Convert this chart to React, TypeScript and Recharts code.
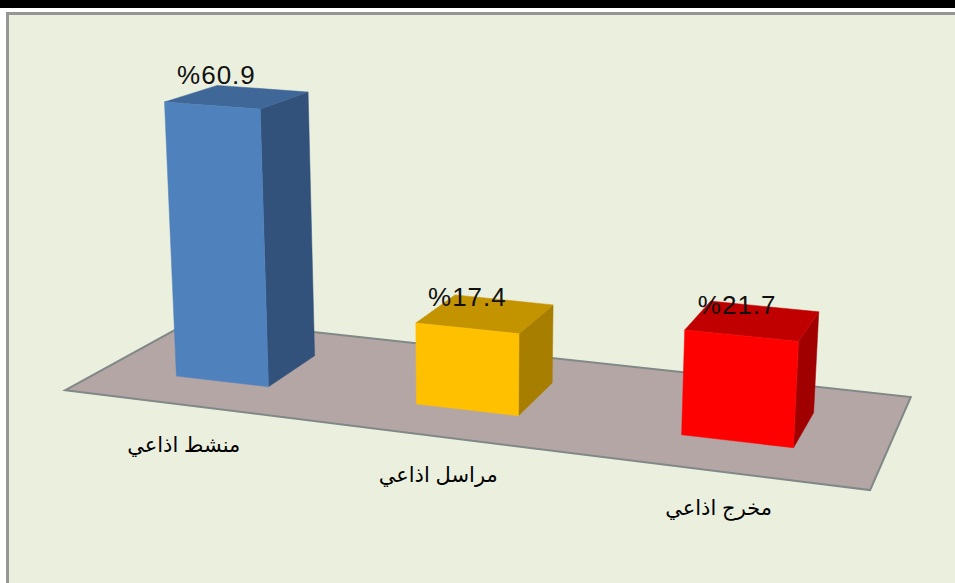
import React from "react";
import { BarChart, Bar, XAxis, YAxis, LabelList, ReferenceArea } from "recharts";

// Data
const categories = ["منشط اذاعي", "مراسل اذاعي", "مخرج اذاعي"];
const shares = [60.9, 17.4, 21.7];
const data = categories.map((name, i) => ({ name, share: shares[i] }));

// Style
const frontColors = ["#4F81BD", "#FFC000", "#FF0000"];
const topColors = ["#3F6797", "#C49300", "#C00000"];
const sideColors = ["#32527C", "#A87E00", "#A00000"];
const FONT = "'Liberation Sans', Arial, 'DejaVu Sans', sans-serif";

// Perspective camera: turns the flat band-scale rectangle into a box on a tilted floor
const toScreenX = (wx: number) => {
  const u = wx - 416;
  return 416 + u + 0.000185 * u * u - 0.0288 * u;
};
const depthX = (x: number) => 46 - 0.0495 * (x - 270);
const depthY = (x: number) => 31 + 0.0076 * (x - 270);
const groundY = (x: number) => 376 + 0.1163 * (x - 176);

const fromBase = (X: number, h: number, d: number) => {
  const bx = X + d * depthX(X);
  const by = groundY(X) - d * depthY(X);
  const hh = h * (1 + 0.000144 * (X - 176));
  return [bx + 0.000146 * (bx - 474) * hh, by - hh * (1 - 0.05 * d)];
};
const project = (wx: number, h: number, d: number) => fromBase(toScreenX(wx), h, d);
const pts = (list: number[][]) => list.map((p) => `${p[0].toFixed(1)},${p[1].toFixed(1)}`).join(" ");

const floorPlan = [
  [106, -0.75],
  [884, -0.89],
  [884, 1.72],
  [106, 1.64],
];

const Floor = () => (
  <polygon
    points={pts(floorPlan.map(([X, d]) => fromBase(X, 0, d)))}
    fill="#B5A6A6"
    stroke="#808888"
    strokeWidth={2}
  />
);

const Box = (props: any) => {
  const { x, width, height, index } = props;
  const l = x;
  const r = x + width;
  const h = height;
  const fl0 = project(l, 0, 0);
  const fr0 = project(r, 0, 0);
  const fl1 = project(l, h, 0);
  const fr1 = project(r, h, 0);
  const br0 = project(r, 0, 1);
  const br1 = project(r, h, 1);
  const bl1 = project(l, h, 1);
  return (
    <g>
      <polygon points={pts([fr0, br0, br1, fr1])} fill={sideColors[index]} stroke={sideColors[index]} strokeWidth={0.5} />
      <polygon points={pts([fl1, fr1, br1, bl1])} fill={topColors[index]} stroke={topColors[index]} strokeWidth={0.5} />
      <polygon points={pts([fl0, fr0, fr1, fl1])} fill={frontColors[index]} stroke={frontColors[index]} strokeWidth={0.5} />
    </g>
  );
};

const ValueLabel = (props: any) => {
  const { x, width, height, value } = props;
  const h = Math.abs(height);
  const left = project(x, h, 0);
  const right = project(x + width, h, 0);
  const mid = (left[0] + right[0]) / 2;
  const cx = mid - 0.016 * (mid - 467);
  return (
    <text
      x={cx}
      y={(left[1] + right[1]) / 2 - 22}
      textAnchor="middle"
      fontFamily={FONT}
      fontSize={26}
      letterSpacing={1}
      fill="#111111"
      direction="ltr"
    >
      {`%${value}`}
    </text>
  );
};

const CategoryTick = (props: any) => {
  const { x, payload } = props;
  const p = project(x, 0, -0.78);
  return (
    <text x={p[0]} y={p[1] + 47} textAnchor="middle" fontFamily={FONT} fontSize={21} fill="#000000">
      {payload.value}
    </text>
  );
};

export default function App() {
  return (
    <div style={{ position: "absolute", left: 0, top: 0, width: 955, height: 583, overflow: "hidden", background: "#FFFFFF" }}>
      <div style={{ position: "absolute", left: 0, top: 0, width: 955, height: 8, background: "#000000" }} />
      <div
        style={{
          position: "absolute",
          left: 6,
          top: 12,
          width: 1000,
          height: 640,
          background: "#EBF0DE",
          border: "3px solid #969696",
          boxSizing: "border-box",
        }}
      />
      <div style={{ position: "absolute", left: 0, top: 0 }}>
        <BarChart
          width={955}
          height={583}
          data={data}
          barSize={103}
          margin={{ top: 50, right: 97.5, bottom: 53, left: 77.5 }}
          style={{ overflow: "visible" }}
        >
          <ReferenceArea
            x1={categories[0]}
            x2={categories[2]}
            y1={0}
            y2={100}
            shape={<Floor />}
            ifOverflow="visible"
          />
          <XAxis
            dataKey="name"
            height={30}
            axisLine={false}
            tickLine={false}
            interval={0}
            tick={<CategoryTick />}
          />
          <YAxis hide width={0} domain={[0, 100]} />
          <Bar dataKey="share" isAnimationActive={false} shape={<Box />}>
            <LabelList dataKey="share" content={<ValueLabel />} />
          </Bar>
        </BarChart>
      </div>
    </div>
  );
}
